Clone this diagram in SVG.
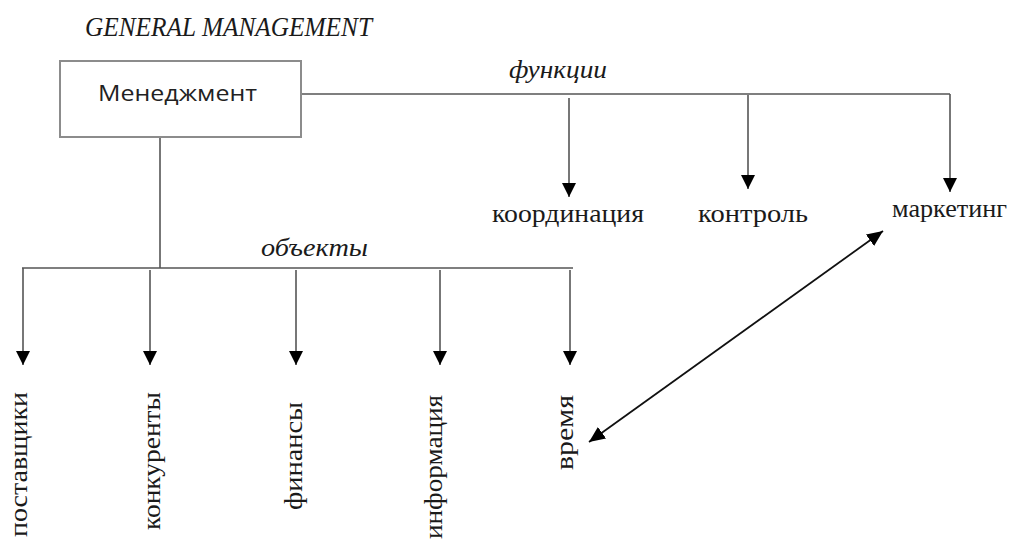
<svg xmlns="http://www.w3.org/2000/svg" width="1011" height="540" viewBox="0 0 1011 540">
  <defs>
    <style>
      .serif { font-family: "Liberation Serif", "Times New Roman", serif; fill: #1a1a1a; }
      .ital { font-style: italic; }
      .lbl { font-size: 26px; }
      .conn { stroke: #555; stroke-width: 1.6; fill: none; }
      .dbl { stroke: #111; stroke-width: 1.8; fill: none; }
      .box { fill: #ffffff; stroke: #8c8c8c; stroke-width: 2; }
      .boxtext { font-family: "Open Sans", "Noto Sans", "Liberation Sans", sans-serif; font-size: 22px; fill: #222; }
    </style>
    <marker id="arrow" markerUnits="userSpaceOnUse" markerWidth="14" markerHeight="14" viewBox="0 0 14 14" refX="14" refY="7" orient="auto">
      <path d="M0,0 L14,7 L0,14 z" fill="#000"/>
    </marker>
    <marker id="arrowStart" markerUnits="userSpaceOnUse" markerWidth="16" markerHeight="14" viewBox="0 0 16 14" refX="0" refY="7" orient="auto">
      <path d="M16,0 L0,7 L16,14 z" fill="#000"/>
    </marker>
    <marker id="arrowEnd2" markerUnits="userSpaceOnUse" markerWidth="16" markerHeight="14" viewBox="0 0 16 14" refX="16" refY="7" orient="auto">
      <path d="M0,0 L16,7 L0,14 z" fill="#000"/>
    </marker>
  </defs>
  <rect width="1011" height="540" fill="#ffffff"/>

  <text class="serif ital" x="85" y="36" font-size="27" textLength="287" lengthAdjust="spacingAndGlyphs">GENERAL MANAGEMENT</text>

  <g id="connectors">
    <!-- functions branch -->
    <line class="conn" x1="301" y1="94" x2="950" y2="94"/>
    <line class="conn" x1="569" y1="98" x2="569" y2="197" marker-end="url(#arrow)"/>
    <line class="conn" x1="748" y1="95" x2="748" y2="189" marker-end="url(#arrow)"/>
    <line class="conn" x1="950" y1="94" x2="950" y2="192" marker-end="url(#arrow)"/>
    <!-- objects branch -->
    <line class="conn" x1="160" y1="137" x2="160" y2="268"/>
    <line class="conn" x1="22" y1="268" x2="573" y2="268"/>
    <line class="conn" x1="23" y1="268" x2="23" y2="365" marker-end="url(#arrow)"/>
    <line class="conn" x1="150" y1="270" x2="150" y2="365" marker-end="url(#arrow)"/>
    <line class="conn" x1="296" y1="270" x2="296" y2="365" marker-end="url(#arrow)"/>
    <line class="conn" x1="440" y1="270" x2="440" y2="365" marker-end="url(#arrow)"/>
    <line class="conn" x1="570" y1="270" x2="570" y2="365" marker-end="url(#arrow)"/>
    <!-- double arrow -->
    <line class="dbl" x1="589" y1="442" x2="883" y2="231" marker-start="url(#arrowStart)" marker-end="url(#arrowEnd2)"/>
  </g>

  <text class="serif ital lbl" x="509" y="78" textLength="98" lengthAdjust="spacingAndGlyphs">функции</text>
  <text class="serif ital lbl" x="261" y="256" textLength="107" lengthAdjust="spacingAndGlyphs">объекты</text>

  <g id="node-management">
    <rect class="box" x="60" y="61" width="241" height="76"/>
    <text class="boxtext" x="98" y="101" textLength="159" lengthAdjust="spacingAndGlyphs">Менеджмент</text>
  </g>

  <g id="node-coordination">
    <text class="serif lbl" x="492" y="222" textLength="152" lengthAdjust="spacingAndGlyphs">координация</text>
  </g>
  <g id="node-control">
    <text class="serif lbl" x="698" y="222" textLength="110" lengthAdjust="spacingAndGlyphs">контроль</text>
  </g>
  <g id="node-marketing">
    <text class="serif lbl" x="892" y="217" textLength="115" lengthAdjust="spacingAndGlyphs">маркетинг</text>
  </g>

  <g id="node-suppliers">
    <text class="serif lbl" transform="translate(27,537) rotate(-90)" textLength="145" lengthAdjust="spacingAndGlyphs">поставщики</text>
  </g>
  <g id="node-competitors">
    <text class="serif lbl" transform="translate(160,530) rotate(-90)" textLength="138" lengthAdjust="spacingAndGlyphs">конкуренты</text>
  </g>
  <g id="node-finance">
    <text class="serif lbl" transform="translate(302,510) rotate(-90)" textLength="108" lengthAdjust="spacingAndGlyphs">финансы</text>
  </g>
  <g id="node-information">
    <text class="serif lbl" transform="translate(442,539) rotate(-90)" textLength="144" lengthAdjust="spacingAndGlyphs">информация</text>
  </g>
  <g id="node-time">
    <text class="serif lbl" transform="translate(573,470) rotate(-90)" textLength="75" lengthAdjust="spacingAndGlyphs">время</text>
  </g>
</svg>
